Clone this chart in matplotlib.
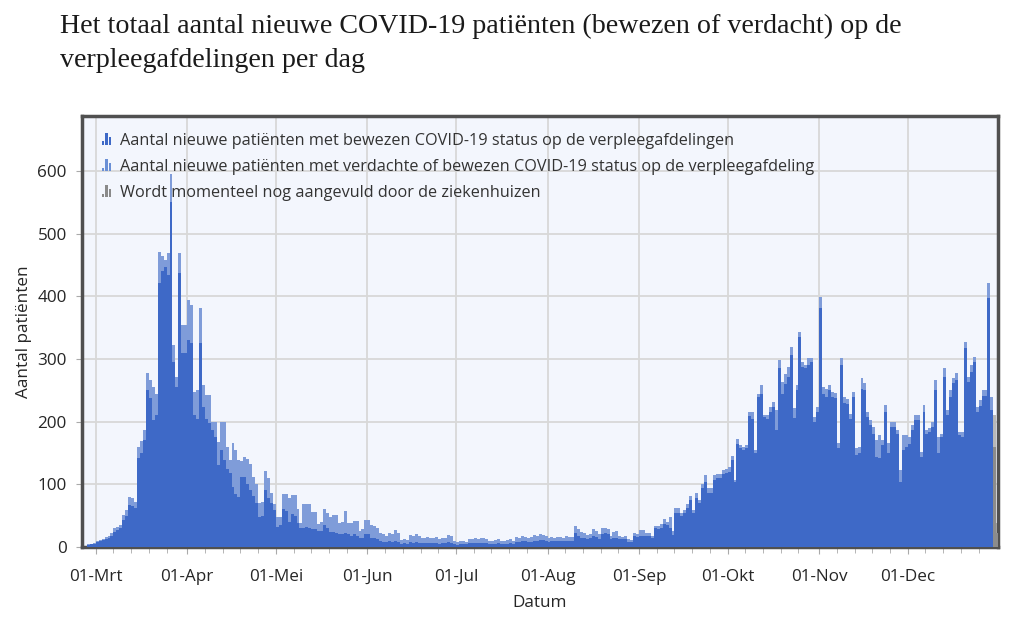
import numpy as np
import pandas as pd
import matplotlib
matplotlib.use('Agg')
import matplotlib.pyplot as plt
import matplotlib.dates as mdates
from matplotlib.patches import Patch, Rectangle
from matplotlib.legend_handler import HandlerBase

start = '2020-02-27'

# totaal = bewezen + verdacht, per dag vanaf 27-feb t/m 31-dec
totaal = [
    4, 5, 7,
    # mrt
    10, 11, 13, 16, 17, 22, 30, 32, 35, 51, 59, 80, 78, 72, 160, 170, 187, 277, 266, 255,
    245, 471, 465, 458, 469, 596, 322, 272, 469, 354, 355,
    # apr
    394, 387, 248, 250, 381, 258, 243, 243, 200, 200, 168, 200, 200, 160, 139, 166, 155, 139,
    137, 144, 140, 133, 112, 100, 70, 72, 122, 110, 86, 69,
    # mei
    48, 48, 85, 85, 79, 83, 83, 60, 38, 68, 68, 68, 56, 56, 36, 40, 60, 55, 48, 51, 51, 38,
    40, 57, 39, 39, 41, 41, 25, 28, 43,
    # jun
    43, 35, 33, 30, 22, 20, 18, 22, 20, 27, 22, 11, 12, 11, 19, 18, 20, 17, 15, 14, 16, 15,
    14, 16, 13, 14, 15, 19, 18, 10,
    # jul
    8, 9, 10, 8, 13, 12, 14, 13, 14, 14, 12, 10, 9, 11, 12, 10, 9, 11, 12, 10, 16, 15, 17,
    16, 15, 16, 19, 18, 20, 19, 18,
    # aug
    15, 16, 15, 16, 16, 15, 17, 16, 16, 33, 28, 24, 22, 19, 21, 29, 25, 20, 30, 30, 28, 17,
    24, 25, 17, 16, 17, 12, 11, 22, 20,
    # sep
    27, 27, 23, 23, 17, 34, 34, 37, 45, 40, 48, 25, 62, 62, 54, 59, 69, 81, 59, 86, 75, 101,
    115, 94, 94, 115, 117, 117, 123, 125,
    # okt
    127, 146, 107, 172, 163, 160, 163, 216, 216, 155, 245, 258, 210, 210, 224, 232, 218, 298,
    264, 276, 288, 320, 222, 258, 344, 296, 291, 302, 302, 208, 224,
    # nov
    399, 256, 252, 258, 248, 246, 166, 302, 240, 237, 213, 248, 158, 160, 270, 262, 216, 203,
    192, 171, 179, 171, 227, 166, 200, 200, 187, 123, 179, 179,
    # dec
    176, 195, 210, 210, 152, 227, 187, 190, 200, 266, 176, 181, 286, 219, 251, 270, 278, 184,
    184, 328, 272, 290, 303, 224, 234, 250, 250, 421, 240, 210, 38,
]

bewezen = [
    3, 4, 5,
    8, 9, 11, 13, 14, 18, 24, 27, 30, 43, 50, 67, 66, 62, 142, 150, 171, 250, 238, 203,
    210, 421, 440, 447, 434, 550, 295, 256, 437, 309, 310,
    330, 325, 210, 205, 325, 223, 204, 198, 187, 175, 131, 155, 139, 125, 118, 95, 85, 80,
    112, 112, 100, 91, 82, 70, 48, 50, 91, 78, 70, 59,
    32, 35, 60, 58, 40, 53, 50, 38, 30, 30, 32, 30, 28, 28, 25, 25, 35, 30, 24, 24, 22, 20,
    20, 22, 20, 18, 20, 18, 15, 15, 20,
    20, 15, 14, 12, 9, 8, 8, 9, 8, 10, 8, 5, 6, 5, 8, 7, 8, 7, 6, 6, 7, 6,
    6, 7, 5, 6, 6, 8, 7, 4,
    3, 4, 5, 4, 6, 6, 7, 6, 7, 6, 6, 5, 4, 5, 6, 5, 4, 5, 6, 4, 8, 8, 9,
    9, 8, 8, 10, 10, 11, 11, 10,
    8, 9, 9, 9, 10, 9, 10, 10, 10, 22, 18, 15, 14, 12, 14, 18, 16, 13, 21, 22, 20, 13,
    15, 15, 13, 12, 12, 8, 8, 18, 16,
    18, 18, 17, 18, 14, 30, 28, 30, 37, 35, 30, 19, 54, 54, 50, 54, 62, 75, 54, 78, 70, 94,
    104, 86, 86, 107, 110, 110, 116, 118,
    120, 139, 103, 165, 158, 155, 158, 209, 205, 150, 240, 245, 208, 205, 215, 224, 187, 285,
    245, 260, 272, 306, 206, 250, 336, 288, 285, 290, 295, 200, 215,
    381, 245, 240, 250, 240, 238, 158, 291, 230, 228, 205, 240, 147, 150, 253, 250, 208, 195,
    180, 144, 142, 163, 216, 150, 192, 192, 181, 104, 155, 160,
    165, 187, 202, 202, 144, 216, 180, 183, 192, 251, 150, 175, 272, 210, 240, 262, 266, 179,
    175, 318, 263, 280, 296, 215, 225, 241, 241, 397, 218, 160, 22,
]

n_aangevuld = 2  # laatste dagen, nog niet compleet

maanden = ['Mrt', 'Apr', 'Mei', 'Jun', 'Jul', 'Aug', 'Sep', 'Okt', 'Nov', 'Dec']
legenda = ['Aantal nieuwe patiënten met bewezen COVID-19 status op de verpleegafdelingen',
           'Aantal nieuwe patiënten met verdachte of bewezen COVID-19 status op de verpleegafdeling',
           'Wordt momenteel nog aangevuld door de ziekenhuizen']

donkerblauw = '#3e69c7'
lichtblauw = '#7f9cd9'
grijs_d = '#8c8c8c'
grijs_l = '#b8b8b8'

totaal = np.array(totaal)
bewezen = np.array(bewezen)
dagen = pd.date_range(start, periods=len(totaal), freq='D')
x = mdates.date2num(dagen)
k = len(x) - n_aangevuld

plt.rcParams['font.family'] = ['Open Sans', 'DejaVu Sans']

fig = plt.figure(figsize=(10.24, 6.25), dpi=100)
ax = fig.add_axes([82 / 1024, 78 / 625, 916 / 1024, 431 / 625])
ax.set_facecolor('#f3f6fd')

ax.bar(x[:k], totaal[:k], width=1.0, align='edge', color=lichtblauw, lw=0, zorder=2)
ax.bar(x[:k], bewezen[:k], width=1.0, align='edge', color=donkerblauw, lw=0, zorder=3)
ax.bar(x[k:], totaal[k:], width=1.0, align='edge', color=grijs_l, lw=0, zorder=2)
ax.bar(x[k:], bewezen[k:], width=1.0, align='edge', color=grijs_d, lw=0, zorder=3)

links = mdates.date2num(pd.Timestamp('2020-03-01')) - 4.64
ax.set_xlim(links, links + 310.2)
ax.set_ylim(0, 688)

maandstart = pd.date_range('2020-03-01', periods=len(maanden), freq='MS')
ax.set_xticks(mdates.date2num(maandstart))
ax.set_xticklabels(['01-' + m for m in maanden])
ax.xaxis.set_minor_locator(mdates.DayLocator(bymonthday=[7, 13, 19, 25]))
ax.set_yticks(range(0, 700, 100))

ax.grid(True, which='major', color='#d8d8d8', linewidth=1.3, zorder=0)
ax.set_axisbelow(True)
ax.tick_params(axis='both', which='major', labelsize=12.3, labelcolor='#262626',
               color='#aaaaaa', length=5)
ax.tick_params(axis='x', which='major', pad=11)
ax.tick_params(axis='x', which='minor', color='#aaaaaa', length=4)
ax.tick_params(axis='y', pad=7, length=4)

for s in ax.spines.values():
    s.set_color('#505050')
    s.set_linewidth(2.5)

ax.set_xlabel('Datum', fontsize=12.3, color='#262626', labelpad=7)
ax.set_ylabel('Aantal patiënten', fontsize=12.3, color='#262626', labelpad=4)


class StaafIcoon(HandlerBase):
    def create_artists(self, legend, orig_handle, xdescent, ydescent, width, height, fontsize, trans):
        kleur = orig_handle.get_facecolor()
        delen = []
        for i, h in enumerate([0.3, 1.0, 0.7]):
            delen.append(Rectangle((-xdescent + i * width / 3, -ydescent), width / 3 * 0.65,
                                   height * h, facecolor=kleur, lw=0, transform=trans))
        return delen


handles = [Patch(color=donkerblauw), Patch(color='#6b90d6'), Patch(color='#8a8a8a')]
ax.legend(handles, legenda, loc='upper left', bbox_to_anchor=(0.006, 0.995), frameon=False,
          fontsize=11.7, labelcolor='#333333', handlelength=0.62, handleheight=0.75,
          handletextpad=0.45, labelspacing=0.62, handler_map={Patch: StaafIcoon()})

fig.text(60 / 1024, 1 - 33 / 625, 'Het totaal aantal nieuwe COVID-19 patiënten (bewezen of verdacht) op de',
         fontsize=20.2, family='Liberation Serif', color='#1a1a1a', va='baseline')
fig.text(60 / 1024, 1 - 67 / 625, 'verpleegafdelingen per dag',
         fontsize=20.2, family='Liberation Serif', color='#1a1a1a', va='baseline')

fig.savefig('out.png', dpi=100)
